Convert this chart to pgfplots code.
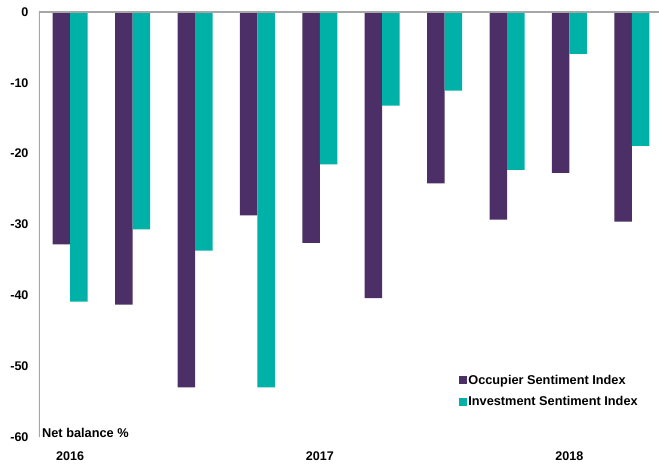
\documentclass[border=0pt]{standalone}
\usepackage{pgfplots}
\pgfplotsset{compat=1.18}
\usepackage{fontspec}
\setmainfont{Liberation Sans}
\usetikzlibrary{calc}

\definecolor{occupier}{HTML}{4C2F66}
\definecolor{investment}{HTML}{00B1A8}
\definecolor{axisgray}{HTML}{A6A6A6}

\begin{document}
\begin{tikzpicture}
\begin{axis}[
  name=ax,
  scale only axis,
  width=620bp, height=425bp,
  xmin=-0.5, xmax=9.436,
  ymin=-60, ymax=0,
  ytick={-60,-50,-40,-30,-20,-10,0},
  xtick={0,4,8},
  xticklabels={2016,2017,2018},
  major tick length=0pt,
  axis line style={draw=none},
  ybar=0pt, bar width=17.5bp,
  /pgf/number format/assume math mode=true,
  tick label style={font=\fontsize{12.6}{14}\selectfont\bfseries},
  yticklabel style={xshift=-7bp},
  xticklabel style={anchor=base, yshift=-23bp},
  legend style={
    at={(0.672,0.156)}, anchor=north west,
    draw=none, fill=none,
    font=\fontsize{12.8}{15}\selectfont\bfseries,
    row sep=7bp,
    nodes={inner xsep=1.5bp},
    legend cell align=left,
  },
  legend image code/.code={\fill[#1] (0bp,-4bp) rectangle (8bp,4bp);},
]
\addplot[fill=occupier, draw=none] coordinates {
  (0,-32.8) (1,-41.3) (2,-53.0) (3,-28.7) (4,-32.6)
  (5,-40.4) (6,-24.2) (7,-29.3) (8,-22.7) (9,-29.6)
};
\addplot[fill=investment, draw=none] coordinates {
  (0,-40.9) (1,-30.7) (2,-33.7) (3,-53.0) (4,-21.5)
  (5,-13.2) (6,-11.1) (7,-22.3) (8,-5.9) (9,-18.9)
};
\legend{Occupier Sentiment Index, Investment Sentiment Index}
% left axis line and zero line along the top
\draw[axisgray, line width=1.2bp] (rel axis cs:0,0) -- (rel axis cs:0,1) -- (rel axis cs:1,1);
\node[anchor=base west, font=\fontsize{12.8}{15}\selectfont\bfseries, inner sep=0pt]
  at ($(rel axis cs:0,0)+(3bp,0bp)$) {Net balance \%};
\end{axis}
\pgfresetboundingbox
\path[use as bounding box] ($(ax.south west)+(-39bp,-30bp)$) rectangle ($(ax.north east)+(0bp,12bp)$);
\end{tikzpicture}
\end{document}
